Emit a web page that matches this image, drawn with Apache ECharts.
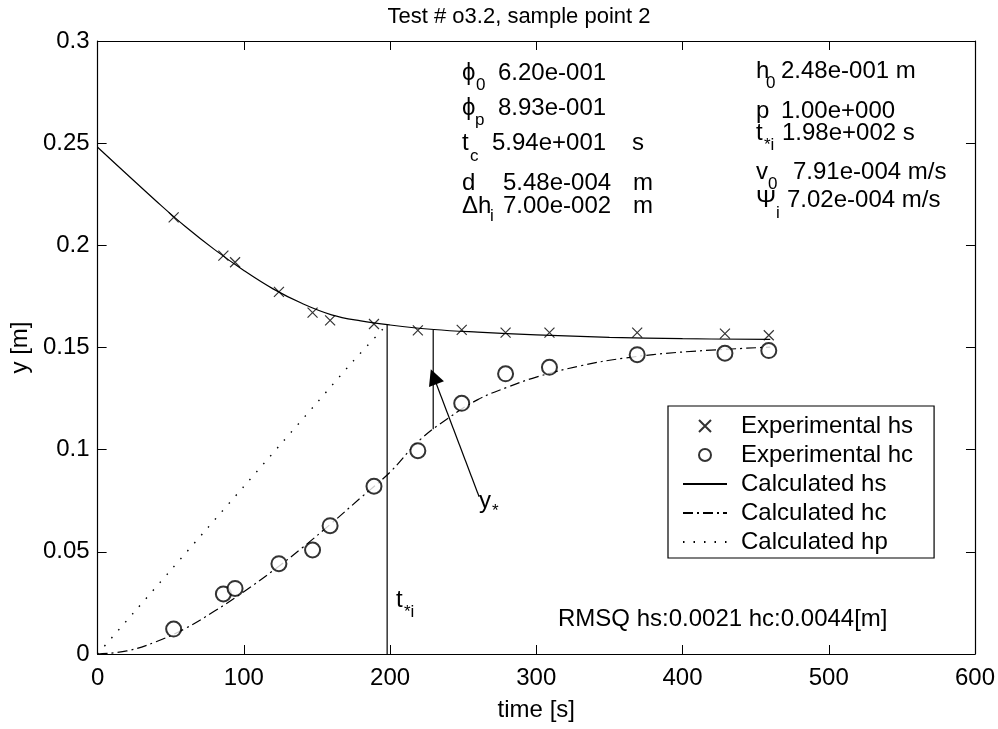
<!DOCTYPE html>
<html>
<head>
<meta charset="utf-8">
<script src="https://cdn.jsdelivr.net/npm/echarts@6/dist/echarts.min.js"></script>
<style>
  html, body { margin: 0; padding: 0; background: #fff; }
  #chart { width: 998px; height: 729px; }
</style>
</head>
<body>
<div id="chart"></div>
<script>
const FONT = "'Liberation Sans', Arial, Helvetica, 'DejaVu Sans', sans-serif";

// experimental points (time [s], y [m])
const tExp = [52, 86, 94, 124, 147, 159, 189, 219, 249, 279, 309, 369, 429, 459];
const hsExp = [0.2137, 0.1950, 0.1917, 0.1772, 0.1671, 0.1633, 0.1615, 0.1584, 0.1586, 0.1573, 0.1573, 0.1573, 0.1568, 0.1560];
const hcExp = [0.0122, 0.0294, 0.0321, 0.0442, 0.0509, 0.0628, 0.0821, 0.0995, 0.1227, 0.1371, 0.1403, 0.1465, 0.1472, 0.1485];

// calculated curves
const tHs = [0, 20, 40, 60, 80, 100, 120, 140, 160, 180, 200, 230, 260, 300, 350, 400, 460];
const hsCalc = [0.248, 0.2348, 0.2217, 0.2092, 0.1979, 0.1877, 0.1787, 0.1715, 0.166, 0.163, 0.161, 0.1588, 0.1575, 0.1562, 0.155, 0.1543, 0.154];
const tHc = [0, 20, 40, 60, 80, 100, 120, 140, 160, 180, 200, 220, 240, 260, 280, 300, 330, 360, 400, 460];
const hcCalc = [0, 0.0015, 0.006, 0.0125, 0.021, 0.0305, 0.0408, 0.052, 0.064, 0.0765, 0.089, 0.1045, 0.1155, 0.1245, 0.1305, 0.1355, 0.141, 0.1448, 0.1478, 0.1502];
const tHp = [0, 25, 50, 75, 100, 125, 150, 175, 198];
const hpCalc = [0, 0.0205, 0.041, 0.0615, 0.082, 0.1025, 0.123, 0.1435, 0.1612];

// t*i marker line, y* segment and its arrow
const tStar = 198;
const tStarTop = 0.1615;
const tYstar = 229.5;
const yStarLow = 0.110;
const yStarHigh = 0.1586;
const arrowFrom = [260.9, 0.077];
const arrowTo = [229.8, 0.1357];

// axes
const xMin = 0, xMax = 600, xStep = 100;
const yMin = 0, yMax = 0.3, yStep = 0.05;

const legendNames = ['Experimental hs', 'Experimental hc', 'Calculated hs', 'Calculated hc', 'Calculated hp'];

// text annotations: [x, y, text, size]
const notes = [
  [462, 73, 'ϕ', 24], [476, 85, '0', 17], [498, 73, '6.20e-001', 24],
  [462, 108, 'ϕ', 24], [475, 120, 'p', 17], [498, 108, '8.93e-001', 24],
  [462, 143, 't', 24], [470, 156, 'c', 17], [492, 143, '5.94e+001', 24], [632, 143, 's', 24],
  [462, 183, 'd', 24], [503, 183, '5.48e-004', 24], [633, 183, 'm', 24],
  [462, 206, 'Δh', 24], [490, 216, 'i', 17], [503, 206, '7.00e-002', 24], [633, 206, 'm', 24],
  [756, 71, 'h', 24], [766, 83, '0', 17], [781, 71, '2.48e-001 m', 24],
  [756, 111, 'p', 24], [781, 111, '1.00e+000', 24],
  [756, 133, 't', 24], [764, 145, '*i', 17], [782, 133, '1.98e+002 s', 24],
  [756, 172, 'v', 24], [768, 184, '0', 17], [793, 172, '7.91e-004 m/s', 24],
  [756, 200, 'Ψ', 24], [776, 213, 'i', 17], [787, 200, '7.02e-004 m/s', 24],
  [396, 600, 't', 24], [404, 612, '*i', 17],
  [479, 501, 'y', 24], [492, 511, '*', 17],
  [558, 619, 'RMSQ hs:0.0021 hc:0.0044[m]', 24]
];

const pairs = (xs, ys) => xs.map((x, i) => [x, ys[i]]);
const crossPath = 'path://M0,0L10,10M10,0L0,10';

const axisCommon = {
  type: 'value',
  axisLine: { show: true, onZero: false, lineStyle: { color: '#000', width: 1.2 } },
  axisTick: { show: true, inside: true, length: 9, lineStyle: { color: '#000', width: 1 } },
  splitLine: { show: false },
  axisLabel: { color: '#000', fontSize: 24, fontFamily: FONT },
  nameTextStyle: { color: '#000', fontSize: 24, fontFamily: FONT }
};

// line entries in the legend: no marker dot on the line sample
const legendData = legendNames.map((name, i) =>
  i < 2 ? { name } : { name, itemStyle: { opacity: 0 } }
);

const chart = echarts.init(document.getElementById('chart'));
chart.setOption({
  animation: false,
  backgroundColor: '#fff',
  title: {
    text: 'Test # o3.2, sample point 2',
    left: 514,
    textAlign: 'center',
    top: 1,
    textStyle: { color: '#000', fontSize: 22, fontWeight: 'normal', fontFamily: FONT }
  },
  grid: { left: 96, right: 22, top: 41, bottom: 75 },
  xAxis: [
    Object.assign({}, axisCommon, {
      min: xMin, max: xMax, interval: xStep, position: 'bottom',
      axisLabel: Object.assign({}, axisCommon.axisLabel, { margin: 12 }),
      name: 'time [s]', nameLocation: 'middle', nameGap: 44
    }),
    Object.assign({}, axisCommon, {
      min: xMin, max: xMax, interval: xStep, position: 'top',
      axisLabel: { show: false }
    })
  ],
  yAxis: [
    Object.assign({}, axisCommon, {
      min: yMin, max: yMax, interval: yStep, position: 'left',
      axisLabel: Object.assign({}, axisCommon.axisLabel, { margin: 8 }),
      name: 'y [m]', nameLocation: 'middle', nameGap: 63
    }),
    Object.assign({}, axisCommon, {
      min: yMin, max: yMax, interval: yStep, position: 'right',
      axisLabel: { show: false }
    })
  ],
  legend: {
    data: legendData,
    orient: 'vertical',
    left: 668,
    top: 406,
    padding: [8, 21, 4, 14],
    itemGap: 5,
    itemWidth: 44,
    itemHeight: 12,
    backgroundColor: '#fff',
    borderColor: '#000',
    borderWidth: 1.2,
    borderRadius: 0,
    textStyle: { color: '#000', fontSize: 24, fontFamily: FONT, lineHeight: 24, padding: [0, 0, 0, 9] }
  },
  graphic: notes.map(n => ({
    type: 'text',
    x: n[0],
    y: n[1],
    silent: true,
    style: { text: n[2], fontSize: n[3], fontFamily: FONT, fill: '#000', verticalAlign: 'middle' }
  })),
  series: [
    {
      name: 'Experimental hs', type: 'scatter',
      data: pairs(tExp, hsExp),
      symbol: crossPath, symbolSize: 10,
      itemStyle: { color: 'rgba(0,0,0,0)', borderColor: '#000', borderWidth: 1.2 },
      z: 5
    },
    {
      name: 'Experimental hc', type: 'scatter',
      data: pairs(tExp, hcExp),
      symbol: 'emptyCircle', symbolSize: 15,
      itemStyle: { color: '#000', borderColor: '#000', borderWidth: 1.2 },
      z: 5
    },
    {
      name: 'Calculated hs', type: 'line',
      data: pairs(tHs, hsCalc),
      smooth: 0.4, symbol: 'none', showSymbol: false,
      lineStyle: { color: '#000', width: 1.2, type: 'solid' },
      itemStyle: { color: '#000' }
    },
    {
      name: 'Calculated hc', type: 'line',
      data: pairs(tHc, hcCalc),
      smooth: 0.4, symbol: 'none', showSymbol: false,
      lineStyle: { color: '#000', width: 1.2, type: [10, 4, 2, 4] },
      itemStyle: { color: '#000' }
    },
    {
      name: 'Calculated hp', type: 'line',
      data: pairs(tHp, hpCalc),
      smooth: 0.3, symbol: 'none', showSymbol: false,
      lineStyle: { color: '#000', width: 1.4, type: [1.5, 9] },
      itemStyle: { color: '#000' }
    },
    {
      name: 't*i', type: 'line',
      data: [[tStar, 0], [tStar, tStarTop]],
      symbol: 'none', lineStyle: { color: '#000', width: 1.2 }
    },
    {
      name: 'y*', type: 'line',
      data: [[tYstar, yStarLow], [tYstar, yStarHigh]],
      symbol: 'none', lineStyle: { color: '#000', width: 1.2 }
    },
    {
      name: 'arrow', type: 'lines', coordinateSystem: 'cartesian2d',
      data: [{ coords: [arrowFrom, arrowTo] }],
      symbol: ['none', 'triangle'], symbolSize: [10, 16],
      lineStyle: { color: '#000', width: 1.2, opacity: 1 }
    }
  ]
});
</script>
</body>
</html>
